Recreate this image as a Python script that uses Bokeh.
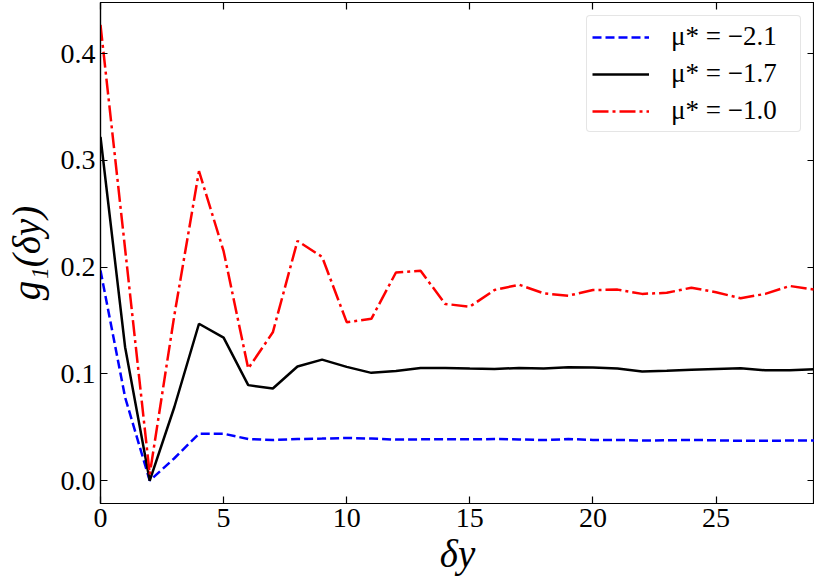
from bokeh.plotting import figure
from bokeh.models import Range1d, LinearAxis, FixedTicker, Legend, LegendItem, CustomLabelingPolicy
from bokeh.embed import file_html
from bokeh.resources import INLINE

dy = list(range(30))
g_m21 = [0.197, 0.078, 0.0, 0.021, 0.044, 0.044, 0.039, 0.038, 0.039, 0.0394,
         0.040, 0.0394, 0.0385, 0.0387, 0.0388, 0.0387, 0.039, 0.0386, 0.038, 0.039,
         0.0382, 0.0382, 0.0376, 0.0378, 0.0382, 0.0378, 0.0373, 0.0373, 0.0376, 0.0376]
g_m17 = [0.322, 0.125, 0.0, 0.069, 0.147, 0.134, 0.0895, 0.0864, 0.107, 0.1134,
         0.1066, 0.101, 0.1028, 0.1056, 0.1056, 0.1050, 0.1047, 0.1056, 0.105, 0.1062,
         0.106, 0.105, 0.1022, 0.103, 0.104, 0.1047, 0.1053, 0.1034, 0.1034, 0.1044]
g_m10 = [0.427, 0.217, 0.006, 0.155, 0.290, 0.215, 0.105, 0.139, 0.2246, 0.2097,
         0.1485, 0.1516, 0.195, 0.1966, 0.1656, 0.163, 0.1786, 0.1836, 0.1755, 0.1733,
         0.1786, 0.179, 0.175, 0.176, 0.1808, 0.1765, 0.1709, 0.175, 0.1824, 0.179]
labels = ["μ* = −2.1", "μ* = −1.7", "μ* = −1.0"]
x_ticks = [0, 5, 10, 15, 20, 25]
y_ticks = [0.0, 0.1, 0.2, 0.3, 0.4]
y_tick_labels = ["0.0", "0.1", "0.2", "0.3", "0.4"]

SERIF = "'Liberation Serif', 'DejaVu Serif', serif"

p = figure(width=814, height=586, output_backend="svg", toolbar_location=None,
           x_range=Range1d(0, 29), y_range=Range1d(-0.0214, 0.448),
           min_border_left=100, min_border_right=0, min_border_top=2, min_border_bottom=83)
p.background_fill_color = "white"
p.border_fill_color = "white"
p.grid.visible = False
p.outline_line_color = "black"
p.outline_line_width = 1.2

r1 = p.line(dy, g_m21, line_color="blue", line_width=2.5, line_dash="9 4")
r2 = p.line(dy, g_m17, line_color="black", line_width=2.5)
r3 = p.line(dy, g_m10, line_color="red", line_width=2.5, line_dash="16 4 3 4")

hide_all = CustomLabelingPolicy(code="for (const i of indices) { indices.unset(i) } return indices")

def style_axis(ax, show_labels):
    ax.axis_line_color = "black"
    ax.axis_line_width = 1.2
    ax.major_tick_in = 7
    ax.major_tick_out = 0
    ax.major_tick_line_width = 1.2
    ax.minor_tick_in = 0
    ax.minor_tick_out = 0
    ax.major_label_text_font = SERIF
    ax.major_label_text_color = "black"
    if show_labels:
        ax.major_label_text_font_size = "28px"
        ax.major_label_standoff = 5
    else:
        ax.major_label_text_font_size = "0px"
        ax.major_label_standoff = 0
        ax.major_label_policy = hide_all

xa = p.xaxis[0]
ya = p.yaxis[0]
xa.ticker = FixedTicker(ticks=x_ticks)
ya.ticker = FixedTicker(ticks=y_ticks)
ya.major_label_overrides = {t: s for t, s in zip(y_ticks, y_tick_labels)}
style_axis(xa, True)
style_axis(ya, True)
xa.axis_label = "δy"
ya.axis_label = "g₁(δy)"
for ax in (xa, ya):
    ax.axis_label_text_font = SERIF
    ax.axis_label_text_font_style = "italic"
    ax.axis_label_text_font_size = "39px"
    ax.axis_label_text_color = "black"
xa.axis_label_standoff = 2
ya.axis_label_standoff = 10

top = LinearAxis(ticker=FixedTicker(ticks=x_ticks))
right = LinearAxis(ticker=FixedTicker(ticks=y_ticks))
style_axis(top, False)
style_axis(right, False)
p.add_layout(top, "above")
p.add_layout(right, "right")

legend = Legend(items=[LegendItem(label=labels[0], renderers=[r1]),
                       LegendItem(label=labels[1], renderers=[r2]),
                       LegendItem(label=labels[2], renderers=[r3])],
                location="top_right")
legend.margin = 13
legend.padding = 5
legend.spacing = 6
legend.glyph_width = 57
legend.glyph_height = 24
legend.label_height = 24
legend.label_width = 124
legend.label_standoff = 22
legend.label_text_font = SERIF
legend.label_text_font_size = "27px"
legend.label_text_color = "black"
legend.border_line_color = "#cccccc"
legend.border_line_width = 1
legend.background_fill_color = "white"
legend.background_fill_alpha = 0.8
if "border_radius" in Legend.properties():
    legend.border_radius = 4
p.add_layout(legend)

open("out.html", "w").write(file_html(p, INLINE))
